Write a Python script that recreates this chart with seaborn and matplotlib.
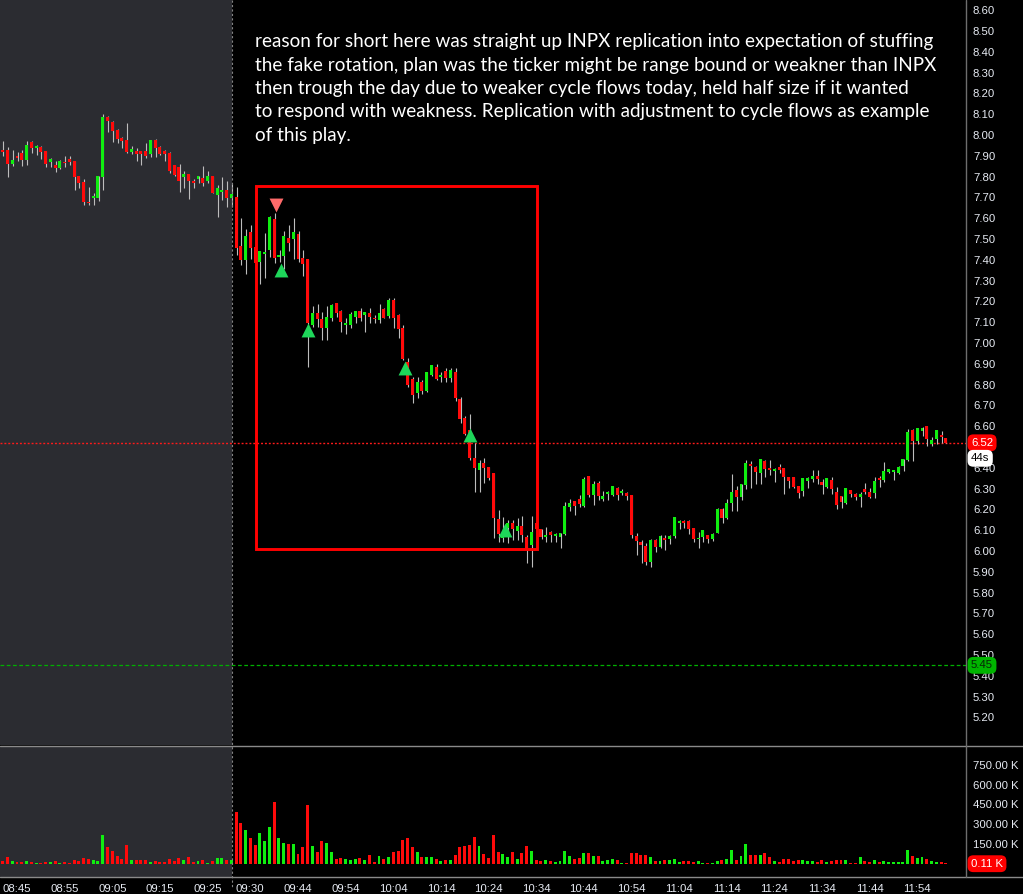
import numpy as np
import pandas as pd
import matplotlib
matplotlib.use("Agg")
import matplotlib.pyplot as plt
from matplotlib.patches import Rectangle
from matplotlib.lines import Line2D
import matplotlib.transforms as mtransforms
import seaborn as sns

# ---------------- data (1-minute bars, 08:42 -> 12:00) ----------------
opens = [
    7.93, 7.93, 7.86, 7.90, 7.913, 7.88, 7.968, 7.939, 7.942, 7.923,
    7.872, 7.856, 7.843, 7.872, 7.883, 7.875, 7.803, 7.775, 7.679, 7.698,
    7.698, 7.799, 8.085, 8.064, 8.024, 7.987, 7.976, 7.92, 7.923, 7.923,
    7.923, 7.91, 7.976, 7.942, 7.923, 7.915, 7.856, 7.846, 7.799, 7.812,
    7.78, 7.79, 7.793, 7.779, 7.803, 7.712, 7.727, 7.736, 7.699, 7.703,
    7.466, 7.399, 7.535, 7.463, 7.391, 7.428, 7.447, 7.596, 7.413, 7.418,
    7.506, 7.5, 7.524, 7.407, 7.404, 7.087, 7.144, 7.115, 7.074, 7.121,
    7.194, 7.154, 7.087, 7.087, 7.126, 7.154, 7.135, 7.143, 7.122, 7.111,
    7.163, 7.13, 7.207, 7.135, 7.074, 6.91, 6.825, 6.758, 6.814, 6.769,
    6.846, 6.885, 6.836, 6.865, 6.833, 6.861, 6.729, 6.638, 6.58, 6.448,
    6.389, 6.424, 6.405, 6.376, 6.154, 6.062, 6.109, 6.136, 6.096, 6.12,
    6.069, 6.029, 6.136, 6.104, 6.069, 6.09, 6.072, 6.069, 6.082, 6.213,
    6.24, 6.249, 6.218, 6.361, 6.269, 6.325, 6.25, 6.274, 6.269, 6.304,
    6.277, 6.277, 6.269, 6.072, 6.045, 6.024, 5.949, 6.053, 6.018, 6.064,
    6.058, 6.072, 6.133, 6.145, 6.145, 6.109, 6.056, 6.066, 6.077, 6.058,
    6.088, 6.20, 6.16, 6.229, 6.293, 6.261, 6.317, 6.418, 6.402, 6.376,
    6.433, 6.40, 6.385, 6.402, 6.397, 6.354, 6.354, 6.312, 6.288, 6.337,
    6.346, 6.361, 6.33, 6.306, 6.341, 6.282, 6.266, 6.229, 6.293, 6.274,
    6.258, 6.297, 6.282, 6.277, 6.352, 6.341, 6.381, 6.381, 6.376, 6.409,
    6.437, 6.582, 6.529, 6.578, 6.601, 6.513, 6.538, 6.558, 6.544,
]
highs = [
    7.97, 7.94, 7.93, 7.92, 7.93, 7.971, 7.97, 7.95, 7.945, 7.925,
    7.889, 7.875, 7.88, 7.899, 7.899, 7.875, 7.803, 7.788, 7.751, 7.723,
    7.803, 8.101, 8.091, 8.067, 8.029, 7.992, 8.059, 7.947, 7.936, 7.923,
    7.963, 7.976, 7.981, 7.947, 7.928, 7.92, 7.856, 7.859, 7.828, 7.812,
    7.788, 7.803, 7.852, 7.828, 7.803, 7.76, 7.799, 7.78, 7.763, 7.751,
    7.602, 7.548, 7.567, 7.49, 7.442, 7.53, 7.61, 7.625, 7.447, 7.538,
    7.567, 7.6, 7.538, 7.447, 7.404, 7.178, 7.187, 7.15, 7.178, 7.187,
    7.194, 7.159, 7.122, 7.147, 7.154, 7.17, 7.15, 7.17, 7.135, 7.186,
    7.17, 7.218, 7.218, 7.138, 7.087, 6.928, 6.835, 6.835, 6.822, 6.862,
    6.894, 6.899, 6.862, 6.878, 6.878, 6.878, 6.742, 6.649, 6.659, 6.519,
    6.437, 6.449, 6.405, 6.376, 6.197, 6.165, 6.149, 6.149, 6.16, 6.168,
    6.077, 6.168, 6.159, 6.104, 6.117, 6.098, 6.088, 6.085, 6.237, 6.249,
    6.24, 6.269, 6.354, 6.361, 6.337, 6.337, 6.288, 6.29, 6.312, 6.309,
    6.298, 6.285, 6.269, 6.088, 6.053, 6.037, 6.058, 6.056, 6.077, 6.077,
    6.077, 6.163, 6.149, 6.149, 6.149, 6.109, 6.093, 6.101, 6.077, 6.088,
    6.205, 6.205, 6.249, 6.37, 6.314, 6.322, 6.437, 6.434, 6.409, 6.442,
    6.437, 6.437, 6.40, 6.417, 6.397, 6.357, 6.354, 6.312, 6.349, 6.357,
    6.389, 6.389, 6.345, 6.349, 6.354, 6.306, 6.266, 6.301, 6.293, 6.28,
    6.285, 6.325, 6.304, 6.357, 6.361, 6.426, 6.394, 6.389, 6.409, 6.442,
    6.585, 6.585, 6.593, 6.598, 6.601, 6.547, 6.582, 6.577, 6.544,
]
lows = [
    7.90, 7.80, 7.85, 7.875, 7.85, 7.856, 7.915, 7.904, 7.885, 7.847,
    7.847, 7.823, 7.836, 7.847, 7.856, 7.736, 7.744, 7.663, 7.663, 7.663,
    7.683, 7.736, 8.016, 7.968, 7.96, 7.936, 7.915, 7.907, 7.876, 7.856,
    7.888, 7.896, 7.896, 7.904, 7.876, 7.816, 7.803, 7.727, 7.747, 7.694,
    7.747, 7.768, 7.755, 7.771, 7.72, 7.607, 7.687, 7.655, 7.655, 7.423,
    7.375, 7.332, 7.404, 7.35, 7.284, 7.314, 7.415, 7.386, 7.391, 7.356,
    7.444, 7.404, 7.391, 7.324, 6.886, 7.078, 7.077, 7.014, 7.014, 7.106,
    7.123, 7.054, 7.043, 7.073, 7.098, 7.106, 7.054, 7.098, 7.098, 7.098,
    7.119, 7.119, 7.074, 7.025, 6.918, 6.79, 6.713, 6.737, 6.755, 6.766,
    6.841, 6.822, 6.814, 6.814, 6.814, 6.722, 6.617, 6.558, 6.437, 6.285,
    6.285, 6.325, 6.341, 6.064, 6.045, 6.045, 6.037, 6.053, 6.053, 6.045,
    5.944, 5.925, 6.077, 6.056, 6.045, 6.045, 6.045, 6.016, 6.077, 6.194,
    6.173, 6.213, 6.213, 6.261, 6.221, 6.245, 6.242, 6.245, 6.266, 6.245,
    6.269, 6.245, 6.061, 5.981, 5.944, 5.933, 5.925, 5.997, 6.013, 6.005,
    6.034, 6.064, 6.106, 6.109, 6.082, 6.045, 6.016, 6.045, 6.037, 6.05,
    6.085, 6.136, 6.154, 6.194, 6.194, 6.245, 6.296, 6.304, 6.322, 6.322,
    6.354, 6.365, 6.333, 6.373, 6.274, 6.304, 6.304, 6.256, 6.264, 6.304,
    6.333, 6.322, 6.274, 6.301, 6.274, 6.202, 6.205, 6.224, 6.261, 6.245,
    6.213, 6.274, 6.253, 6.256, 6.306, 6.333, 6.376, 6.341, 6.37, 6.385,
    6.433, 6.433, 6.513, 6.553, 6.506, 6.506, 6.514, 6.518, 6.517,
]
closes = [
    7.92, 7.86, 7.88, 7.89, 7.88, 7.952, 7.939, 7.947, 7.92, 7.862,
    7.885, 7.843, 7.875, 7.864, 7.872, 7.799, 7.771, 7.679, 7.672, 7.707,
    7.803, 8.088, 8.067, 8.019, 7.982, 7.971, 7.92, 7.933, 7.91, 7.91,
    7.899, 7.976, 7.939, 7.91, 7.91, 7.828, 7.808, 7.78, 7.812, 7.779,
    7.771, 7.803, 7.771, 7.803, 7.723, 7.744, 7.736, 7.699, 7.715, 7.457,
    7.399, 7.514, 7.455, 7.383, 7.442, 7.439, 7.607, 7.41, 7.423, 7.514,
    7.482, 7.535, 7.404, 7.38, 7.095, 7.144, 7.115, 7.072, 7.126, 7.183,
    7.143, 7.102, 7.098, 7.139, 7.154, 7.122, 7.147, 7.123, 7.114, 7.143,
    7.122, 7.207, 7.122, 7.067, 6.923, 6.798, 6.75, 6.814, 6.771, 6.862,
    6.894, 6.827, 6.846, 6.833, 6.87, 6.737, 6.635, 6.562, 6.448, 6.40,
    6.424, 6.40, 6.349, 6.16, 6.082, 6.072, 6.136, 6.104, 6.12, 6.077,
    6.008, 6.093, 6.104, 6.069, 6.077, 6.077, 6.082, 6.085, 6.216, 6.229,
    6.218, 6.226, 6.346, 6.269, 6.322, 6.266, 6.264, 6.282, 6.312, 6.269,
    6.288, 6.266, 6.077, 6.048, 6.029, 5.949, 6.053, 6.021, 6.072, 6.053,
    6.072, 6.163, 6.143, 6.136, 6.106, 6.058, 6.064, 6.101, 6.058, 6.08,
    6.20, 6.16, 6.232, 6.285, 6.258, 6.322, 6.424, 6.409, 6.381, 6.442,
    6.393, 6.389, 6.394, 6.389, 6.357, 6.337, 6.306, 6.28, 6.349, 6.349,
    6.361, 6.346, 6.317, 6.349, 6.297, 6.221, 6.237, 6.301, 6.274, 6.258,
    6.274, 6.285, 6.258, 6.338, 6.341, 6.385, 6.394, 6.389, 6.402, 6.442,
    6.574, 6.529, 6.593, 6.593, 6.538, 6.534, 6.582, 6.549, 6.52,
]
volumes_k = [
    20, 50, 20, 13, 13, 20, 13, 5, 5, 13,
    13, 20, 5, 13, 5, 28, 23, 43, 38, 28,
    20, 217, 126, 96, 58, 35, 141, 28, 28, 28,
    28, 13, 20, 13, 13, 35, 20, 43, 28, 50,
    13, 20, 28, 5, 20, 43, 40, 28, 28, 394,
    308, 255, 194, 141, 232, 172, 278, 470, 194, 157,
    149, 149, 73, 126, 444, 134, 88, 172, 157, 88,
    35, 43, 35, 30, 35, 43, 28, 66, 13, 58,
    35, 50, 88, 96, 179, 194, 126, 88, 50, 50,
    50, 35, 20, 28, 28, 66, 126, 134, 141, 202,
    134, 73, 43, 217, 88, 73, 50, 88, 35, 81,
    134, 96, 28, 20, 28, 20, 13, 20, 96, 58,
    35, 43, 81, 81, 58, 58, 20, 28, 35, 28,
    5, 5, 81, 81, 66, 66, 50, 20, 20, 28,
    28, 35, 13, 20, 20, 13, 20, 5, 5, 5,
    20, 28, 35, 104, 28, 58, 149, 66, 66, 66,
    81, 50, 20, 13, 35, 35, 20, 28, 28, 20,
    20, 13, 28, 13, 20, 28, 28, 28, 5, 5,
    50, 20, 13, 28, 13, 20, 13, 13, 13, 13,
    104, 58, 43, 50, 35, 20, 13, 13, 5,
]

time_labels = ["08:45", "08:55", "09:05", "09:15", "09:25", "09:30", "09:44",
               "09:54", "10:04", "10:14", "10:24", "10:34", "10:44", "10:54",
               "11:04", "11:14", "11:24", "11:34", "11:44", "11:54"]
time_label_bar = [3, 13, 23, 33, 43, 51.9, 62, 72, 82, 92, 102, 112, 122, 132,
                  142, 152, 162, 172, 182, 192]
# 6.50 is hidden behind the last-price badge in the original
price_ticks = [5.2, 5.3, 5.4, 5.5, 5.6, 5.7, 5.8, 5.9, 6.0, 6.1, 6.2, 6.3, 6.4,
               6.6, 6.7, 6.8, 6.9, 7.0, 7.1, 7.2, 7.3, 7.4, 7.5, 7.6, 7.7,
               7.8, 7.9, 8.0, 8.1, 8.2, 8.3, 8.4, 8.5, 8.6]
price_tick_labels = ["5.20", "5.30", "5.40", "5.50", "5.60", "5.70", "5.80",
                     "5.90", "6.00", "6.10", "6.20", "6.30", "6.40",
                     "6.60", "6.70", "6.80", "6.90", "7.00", "7.10", "7.20",
                     "7.30", "7.40", "7.50", "7.60", "7.70", "7.80", "7.90",
                     "8.00", "8.10", "8.20", "8.30", "8.40", "8.50", "8.60"]
volume_ticks = [150, 300, 450, 600, 750]
volume_tick_labels = ["150.00 K", "300.00 K", "450.00 K", "600.00 K", "750.00 K"]

session_open_bar = 48.2
box_bars = [53.24, 112.24]
box_prices = [6.010, 7.755]
short_bar = [57.3]
short_price = [7.661]
cover_bars = [58.36, 64.16, 84.5, 98.2, 105.4]
cover_prices = [7.351, 7.062, 6.882, 6.558, 6.101]
last_price = 6.52
last_price_label = "6.52"
timer_label = "44s"
level_price = 5.45
level_label = "5.45"
last_volume_label = "0.11 K"

annotation_lines = [
    "reason for short here was straight up INPX replication into expectation of stuffing",
    "the fake rotation, plan was the ticker might be range bound or weakner than INPX",
    "then trough the day due to weaker cycle flows today, held half size if it wanted",
    "to respond with weakness. Replication with adjustment to cycle flows as example",
    "of this play.",
]

# ---------------- style ----------------
GREEN = "#10ee10"
RED = "#ff0a0a"
WICK = "#bdbdbd"
LABEL = "#e6eaf2"
PRE_BG = "#2b2c31"
TICK_FS = 8.2

sns.set_theme(style="dark", rc={"axes.facecolor": "black",
                                "figure.facecolor": "black"})
plt.rcParams["font.family"] = ["Liberation Sans", "DejaVu Sans"]

W, H = 1023, 894
fig = plt.figure(figsize=(W / 100, H / 100), dpi=100, facecolor="black")


def rect(x0, y0, x1, y1):
    return [x0 / W, 1 - y1 / H, (x1 - x0) / W, (y1 - y0) / H]


ax_p = fig.add_axes(rect(0, 0, 966, 745))
ax_v = fig.add_axes(rect(0, 746, 966, 877))

n = len(closes)
idx = np.arange(n)
o = np.array(opens)
h = np.array(highs)
l = np.array(lows)
c = np.array(closes)
up = c >= o
xlim = (-0.569, 202.24)

for ax in (ax_p, ax_v):
    ax.set_facecolor("black")
    ax.axvspan(xlim[0], session_open_bar, color=PRE_BG, lw=0, zorder=0)
    for s in ax.spines.values():
        s.set_visible(False)
    ax.grid(False)

# candles
ax_p.vlines(idx + 0.12, l, h, color=WICK, lw=0.8, zorder=2)
body_bottom = np.minimum(o, c)
body_h = np.maximum(np.abs(c - o), 0.008)
ax_p.bar(idx, body_h, bottom=body_bottom, width=0.62,
         color=np.where(up, GREEN, RED), lw=0, zorder=3)

# volume
vdf = pd.DataFrame({"bar": idx, "vol": volumes_k,
                    "dir": np.where(up, "up", "down")})
sns.barplot(data=vdf, x="bar", y="vol", hue="dir",
            palette={"up": GREEN, "down": RED}, native_scale=True,
            dodge=False, width=0.62, saturation=1, errorbar=None,
            legend=False, linewidth=0, ax=ax_v)

# trade markers
sns.scatterplot(x=short_bar, y=short_price, marker="v", s=100,
                color="#ff6a6a", linewidth=0, ax=ax_p, zorder=6)
sns.scatterplot(x=cover_bars, y=cover_prices, marker="^", s=100,
                color="#1ed65a", linewidth=0, ax=ax_p, zorder=6)

# highlight box
ax_p.add_patch(Rectangle((box_bars[0], box_prices[0]),
                         box_bars[1] - box_bars[0],
                         box_prices[1] - box_prices[0],
                         fill=False, ec="#ff0000", lw=2.1, zorder=5))

# price lines
ax_p.axhline(last_price, color="#ff1a1a", ls=(0, (1.4, 1.4)), lw=1.0, zorder=1)
ax_p.axhline(level_price, color="#00b000", ls=(0, (3, 2)), lw=0.9, zorder=1)

# limits and ticks
ax_p.set_xlim(*xlim)
ax_v.set_xlim(*xlim)
ax_p.set_ylim(5.067, 8.649)
ax_v.set_ylim(-100.8, 891.7)
for ax in (ax_p, ax_v):
    ax.set_xlabel("")
    ax.set_ylabel("")

ax_p.yaxis.tick_right()
ax_p.set_yticks(price_ticks, labels=price_tick_labels)
ax_p.set_xticks([])
ax_p.tick_params(axis="y", length=0, pad=5, labelsize=TICK_FS, labelcolor=LABEL)

ax_v.yaxis.tick_right()
ax_v.set_yticks(volume_ticks, labels=volume_tick_labels)
ax_v.set_xticks(time_label_bar, labels=time_labels)
ax_v.tick_params(axis="y", length=0, pad=5, labelsize=TICK_FS, labelcolor=LABEL)
ax_v.tick_params(axis="x", length=0, pad=5.0, labelsize=TICK_FS, labelcolor=LABEL)

# frame lines
line_c = "#8a8a8a"
fig.add_artist(Line2D([0, 1], [1 - 746 / H] * 2, transform=fig.transFigure,
                      color=line_c, lw=1))
fig.add_artist(Line2D([0, 1], [1 - 877 / H] * 2, transform=fig.transFigure,
                      color=line_c, lw=1))
fig.add_artist(Line2D([966 / W] * 2, [1, 1 - 877 / H], transform=fig.transFigure,
                      color="#6e6e6e", lw=1))
sep_tr = mtransforms.blended_transform_factory(ax_p.transData, fig.transFigure)
fig.add_artist(Line2D([session_open_bar] * 2, [1, 1 - 888 / H], transform=sep_tr,
                      color="#858585", ls=(0, (2, 2)), lw=0.8))

# annotation
for k, line in enumerate(annotation_lines):
    fig.text(255 / W, 1 - (47 + k * 23.5) / H, line, color="white",
             fontsize=13.6, family="Lato", va="baseline", ha="left")

# badges
tr_p = mtransforms.blended_transform_factory(fig.transFigure, ax_p.transData)
tr_v = mtransforms.blended_transform_factory(fig.transFigure, ax_v.transData)
bx = 971 / W
badge = dict(boxstyle="round,pad=0.3,rounding_size=0.5", ec="none")
fig.text(bx, last_price, last_price_label, transform=tr_p, color="white",
         fontsize=TICK_FS, va="center", ha="left", bbox=dict(badge, fc="#ff0000"))
fig.text(bx, last_price, timer_label,
         transform=mtransforms.offset_copy(tr_p, fig=fig, y=-15.5, units="dots"),
         color="black", fontsize=TICK_FS, va="center", ha="left",
         bbox=dict(badge, fc="white"))
fig.text(bx, level_price, level_label, transform=tr_p, color="#062806",
         fontsize=TICK_FS, va="center", ha="left", bbox=dict(badge, fc="#00b400"))
fig.text(bx, 0, last_volume_label, transform=tr_v, color="white",
         fontsize=TICK_FS, va="center", ha="left", bbox=dict(badge, fc="#ff0000"))

fig.savefig("out.png", dpi=100, facecolor="black")
